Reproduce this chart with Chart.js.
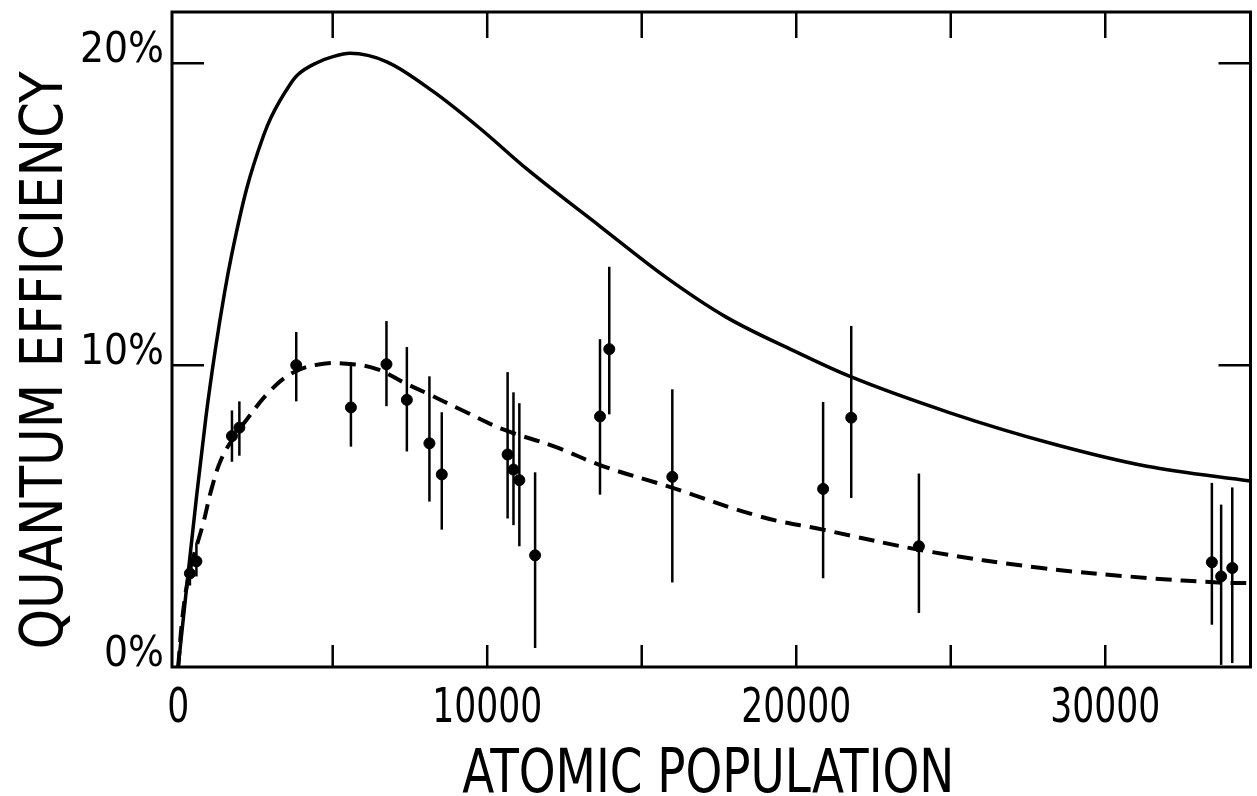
<!DOCTYPE html>
<html>
<head>
<meta charset="utf-8">
<script src="https://cdn.jsdelivr.net/npm/chart.js@4/dist/chart.umd.min.js"></script>
<style>
html,body{margin:0;padding:0;background:#fff;overflow:hidden;}
#wrap{width:1257px;height:796px;}
</style>
</head>
<body>
<div id="wrap"><canvas id="c" width="1257" height="796"></canvas></div>
<script>
// ---- data ----
const theoryX = [0, 300, 600, 900, 1200, 1500, 1740, 2220, 2760, 3000, 3620, 3870, 4490, 5010, 5560, 6750, 8260, 9770, 11280, 13650, 15800, 17720, 19910, 21680, 24950, 28350, 31350, 34700];
const theoryY = [0, 2.9, 5.7, 8.3, 10.5, 12.4, 13.7, 15.86, 17.6, 18.2, 19.3, 19.62, 20.02, 20.22, 20.33, 20.05, 19.06, 17.84, 16.5, 14.6, 12.9, 11.6, 10.48, 9.65, 8.43, 7.38, 6.65, 6.16];

const fitX = [0, 155, 380, 810, 1080, 1400, 1830, 2220, 2975, 3730, 4590, 5450, 6430, 7290, 8040, 9120, 10520, 12140, 13760, 15830, 18820, 20860, 24270, 27940, 31350, 33660, 34700];
const fitY = [0, 1.8, 3.2, 4.76, 5.9, 6.9, 7.65, 8.2, 9.15, 9.76, 10.03, 10.05, 9.87, 9.43, 9.07, 8.54, 7.87, 7.32, 6.65, 5.99, 4.99, 4.55, 3.83, 3.28, 2.95, 2.8, 2.78];

const expX    = [380, 590, 1740, 1980, 3820, 5590, 6740, 7400, 8130, 8530, 10660, 10850, 11040, 11550, 13650, 13950, 15990, 20870, 21780, 23970, 33450, 33750, 34110];
const expY    = [3.1, 3.5, 7.65, 7.93, 10.0, 8.6, 10.03, 8.85, 7.41, 6.38, 7.04, 6.54, 6.19, 3.70, 8.3, 10.53, 6.3, 5.9, 8.26, 4.0, 3.47, 3.0, 3.28];
const errHigh = [3.5, 4.1, 8.5, 8.8, 11.1, 10.1, 11.46, 10.6, 9.63, 8.44, 9.77, 9.1, 8.74, 6.45, 10.86, 13.26, 9.2, 8.78, 11.3, 6.41, 6.1, 5.38, 5.95];
const errLow  = [2.7, 3.0, 6.8, 7.0, 8.8, 7.3, 8.64, 7.14, 5.48, 4.55, 4.92, 4.7, 4.0, 0.63, 5.71, 8.37, 2.8, 2.94, 5.6, 1.79, 1.4, 0.07, 0.13];

const xTickValues = [0, 5000, 10000, 15000, 20000, 25000, 30000];
const xLabelValues = [0, 10000, 20000, 30000];
const yTickValues = [0, 10, 20];

const xTitle = "ATOMIC POPULATION";
const yTitle = "QUANTUM EFFICIENCY";

const narrowFont = '"Liberation Sans Narrow", "DejaVu Sans Condensed", "Liberation Sans", sans-serif';
const condFont = '"DejaVu Sans Condensed", "DejaVu Sans", sans-serif';

const toXY = (xs, ys) => xs.map((x, i) => ({x: x, y: ys[i]}));

// ---- plugins ----
const bgPlugin = {
  id: 'bg',
  beforeDraw(chart) {
    const ctx = chart.ctx;
    ctx.save();
    ctx.fillStyle = '#fff';
    ctx.fillRect(0, 0, chart.width, chart.height);
    ctx.restore();
  }
};

const errorBars = {
  id: 'errorBars',
  beforeDatasetsDraw(chart) {
    const ctx = chart.ctx, xs = chart.scales.x, ys = chart.scales.y;
    ctx.save();
    ctx.strokeStyle = '#000';
    ctx.lineWidth = 2.5;
    for (let i = 0; i < expX.length; i++) {
      const px = xs.getPixelForValue(expX[i]);
      ctx.beginPath();
      ctx.moveTo(px, ys.getPixelForValue(errHigh[i]));
      ctx.lineTo(px, ys.getPixelForValue(errLow[i]));
      ctx.stroke();
    }
    ctx.restore();
  }
};

function narrowText(ctx, text, x, y, size, scaleX, rot) {
  ctx.save();
  ctx.font = size + 'px ' + narrowFont;
  ctx.translate(x, y);
  if (rot) ctx.rotate(rot);
  ctx.scale(scaleX, 1);
  ctx.fillText(text, 0, 0);
  ctx.restore();
}

const framePlugin = {
  id: 'frame',
  afterDraw(chart) {
    const ctx = chart.ctx, a = chart.chartArea, xs = chart.scales.x, ys = chart.scales.y;
    ctx.save();
    ctx.strokeStyle = '#000';
    ctx.lineWidth = 3;
    ctx.strokeRect(a.left, a.top, a.right - a.left, a.bottom - a.top);
    ctx.lineWidth = 2.5;
    ctx.beginPath();
    xTickValues.forEach(v => {
      if (v === 0) return;
      const px = xs.getPixelForValue(v);
      ctx.moveTo(px, a.bottom); ctx.lineTo(px, a.bottom - 22);
      ctx.moveTo(px, a.top); ctx.lineTo(px, a.top + 26);
    });
    yTickValues.forEach(v => {
      if (v === 0) return;
      const py = ys.getPixelForValue(v);
      ctx.moveTo(a.left, py); ctx.lineTo(a.left + 32, py);
      ctx.moveTo(a.right, py); ctx.lineTo(a.right - 32, py);
    });
    ctx.stroke();

    ctx.fillStyle = '#000';
    ctx.textAlign = 'center';
    ctx.textBaseline = 'alphabetic';

    // x tick labels (narrow lettering)
    ctx.font = '48px ' + narrowFont;
    const digitScale = 110 / ctx.measureText('10000').width;
    xLabelValues.forEach(v => {
      narrowText(ctx, String(v), xs.getPixelForValue(v), a.bottom + 55, 48, digitScale, 0);
    });

    // x title
    ctx.font = '60px ' + narrowFont;
    let w = ctx.measureText(xTitle).width;
    narrowText(ctx, xTitle, (a.left + a.right) / 2 - 3, 792, 60, 492 / w, 0);

    // y title
    ctx.font = '58px ' + narrowFont;
    w = ctx.measureText(yTitle).width;
    narrowText(ctx, yTitle, 62, (a.top + a.bottom) / 2 + 21, 58, 578 / w, -Math.PI / 2);
    ctx.restore();
  }
};

new Chart(document.getElementById('c'), {
  type: 'scatter',
  data: {
    datasets: [
      {
        label: 'theory',
        type: 'line',
        data: toXY(theoryX, theoryY),
        borderColor: '#000',
        borderWidth: 3.5,
        pointRadius: 0,
        cubicInterpolationMode: 'monotone',
        fill: false
      },
      {
        label: 'fit',
        type: 'line',
        data: toXY(fitX, fitY),
        borderColor: '#000',
        borderWidth: 4,
        borderDash: [16, 9],
        pointRadius: 0,
        tension: 0.4,
        fill: false
      },
      {
        label: 'measured',
        data: toXY(expX, expY),
        backgroundColor: '#000',
        borderColor: '#000',
        pointRadius: 5.5,
        pointHoverRadius: 5.5
      }
    ]
  },
  options: {
    responsive: false,
    devicePixelRatio: 1,
    animation: false,
    events: [],
    layout: {padding: {top: 12, right: 6, left: 0, bottom: 0}},
    plugins: {legend: {display: false}, tooltip: {enabled: false}, title: {display: false}},
    scales: {
      x: {
        type: 'linear',
        min: -200,
        max: 34700,
        afterBuildTicks(s) { s.ticks = xTickValues.map(v => ({value: v})); },
        afterFit(s) { s.height = 129; s.paddingLeft = 0; s.paddingRight = 0; },
        grid: {display: false, drawTicks: false},
        border: {display: false},
        ticks: {display: false}
      },
      y: {
        type: 'linear',
        min: 0,
        max: 21.7,
        afterBuildTicks(s) { s.ticks = yTickValues.map(v => ({value: v})); },
        afterFit(s) { s.width = 172; s.paddingTop = 0; s.paddingBottom = 0; },
        grid: {display: false, drawTicks: false},
        border: {display: false},
        ticks: {
          autoSkip: false,
          padding: 8,
          labelOffset: -12,
          color: '#000',
          font: {family: condFont, size: 42},
          callback: v => v + '%'
        }
      }
    }
  },
  plugins: [bgPlugin, errorBars, framePlugin]
});
</script>
</body>
</html>
